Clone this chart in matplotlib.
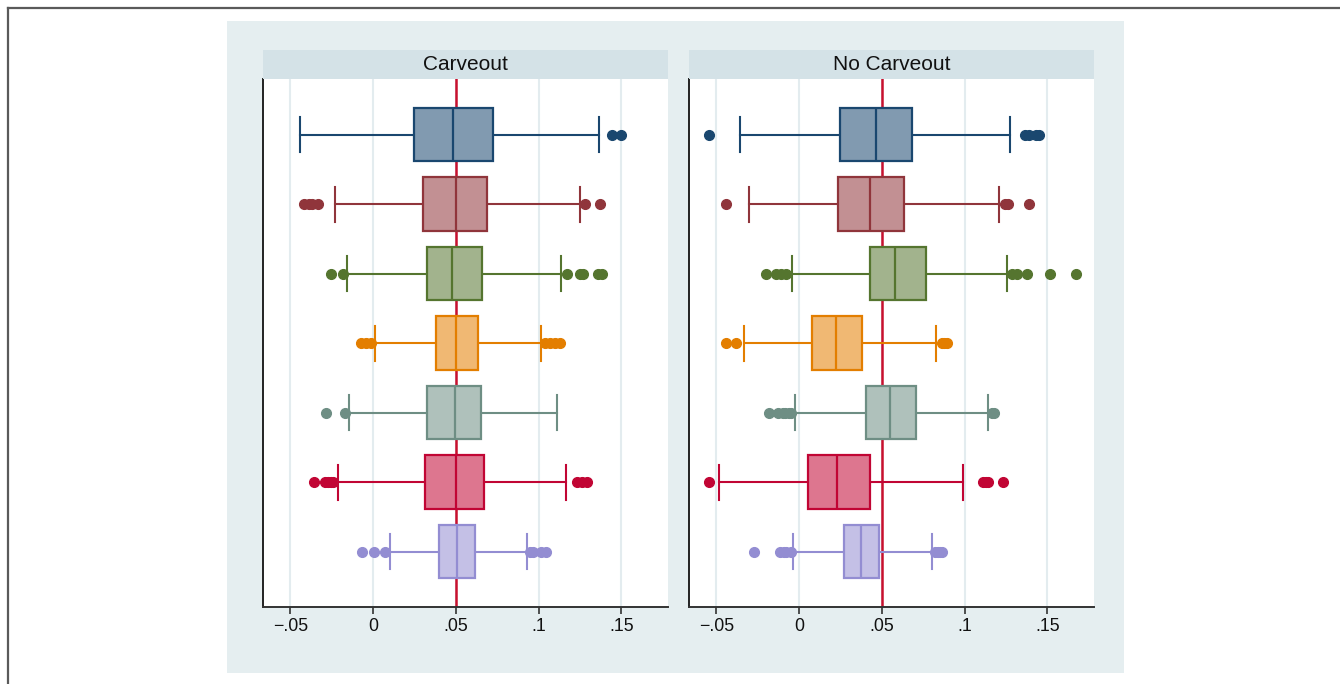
import matplotlib
matplotlib.use("Agg")
import matplotlib.pyplot as plt
from matplotlib.colors import to_rgb
from matplotlib.patches import Rectangle
from matplotlib.lines import Line2D

plt.rcParams['font.family'] = ['Liberation Sans', 'DejaVu Sans']

# Panels and series colours (Stata s2color palette)
panel_titles = ["Carveout", "No Carveout"]
series_colors = ["#1A476F", "#90353B", "#55752F", "#E37E00",
                 "#6E8E84", "#C10534", "#938DD2"]

# ---- Carveout panel: box-plot summaries (top row first) ----
carve_whislo = [-0.0439, -0.0232, -0.0157, 0.0010, -0.0145, -0.0214, 0.0100]
carve_q1     = [0.0249, 0.0304, 0.0328, 0.0378, 0.0328, 0.0314, 0.0398]
carve_med    = [0.0485, 0.0499, 0.0475, 0.0503, 0.0495, 0.0499, 0.0507]
carve_q3     = [0.0725, 0.0686, 0.0660, 0.0634, 0.0650, 0.0670, 0.0616]
carve_whishi = [0.1362, 0.1250, 0.1137, 0.1012, 0.1109, 0.1167, 0.0930]
carve_fliers = [
    [0.1441, 0.1497],
    [-0.0415, -0.0390, -0.0371, -0.0335, 0.1280, 0.1373],
    [-0.0256, -0.0184, 0.1169, 0.1250, 0.1265, 0.1360, 0.1380],
    [-0.0073, -0.0040, -0.0012, 0.1039, 0.1070, 0.1100, 0.1129],
    [-0.0282, -0.0169],
    [-0.0354, -0.0290, -0.0270, -0.0255, -0.0240, 0.1230, 0.1260, 0.1290],
    [-0.0067, 0.0008, 0.0074, 0.0950, 0.0968, 0.1012, 0.1042],
]

# ---- No Carveout panel ----
nocarve_whislo = [-0.0357, -0.0302, -0.0044, -0.0330, -0.0022, -0.0484, -0.0036]
nocarve_q1     = [0.0248, 0.0238, 0.0430, 0.0081, 0.0405, 0.0051, 0.0270]
nocarve_med    = [0.0464, 0.0430, 0.0581, 0.0226, 0.0547, 0.0230, 0.0377]
nocarve_q3     = [0.0684, 0.0635, 0.0765, 0.0383, 0.0706, 0.0430, 0.0484]
nocarve_whishi = [0.1275, 0.1208, 0.1256, 0.0829, 0.1143, 0.0990, 0.0801]
nocarve_fliers = [
    [-0.0544, 0.1365, 0.1386, 0.1430, 0.1446],
    [-0.0439, 0.1244, 0.1264, 0.1391],
    [-0.0201, -0.0137, -0.0107, -0.0076, 0.1285, 0.1319, 0.1376, 0.1517, 0.1670],
    [-0.0443, -0.0379, 0.0861, 0.0876, 0.0892],
    [-0.0183, -0.0127, -0.0100, -0.0087, -0.0060, -0.0046, 0.1164, 0.1178],
    [-0.0544, 0.1113, 0.1130, 0.1143, 0.1234],
    [-0.0272, -0.0117, -0.0090, -0.0076, -0.0050, 0.0821, 0.0840, 0.0851, 0.0861],
]

reference_value = 0.05
x_ticks = [-0.05, 0, 0.05, 0.1, 0.15]
x_tick_labels = ["\u2212.05", "0", ".05", ".1", ".15"]

panels = [
    (carve_whislo, carve_q1, carve_med, carve_q3, carve_whishi, carve_fliers),
    (nocarve_whislo, nocarve_q1, nocarve_med, nocarve_q3, nocarve_whishi, nocarve_fliers),
]


def tint(color, strength=0.55):
    """Opaque blend of a colour with white."""
    r, g, b = to_rgb(color)
    return (strength * r + (1 - strength),
            strength * g + (1 - strength),
            strength * b + (1 - strength))


W, H = 1340, 684
fig = plt.figure(figsize=(W / 100, H / 100), dpi=100)
fig.patch.set_facecolor("white")

# page frame lines (top and left) and the graph region
fig.add_artist(Line2D([7.5 / W, 1.0], [1 - 7.5 / H, 1 - 7.5 / H], color="#5a5a5a",
                      lw=1.6, transform=fig.transFigure))
fig.add_artist(Line2D([7.5 / W, 7.5 / W], [0, 1 - 7.5 / H], color="#5a5a5a",
                      lw=1.6, transform=fig.transFigure))
fig.add_artist(Rectangle((227 / W, 1 - 672.5 / H), (1124 - 227) / W, (672.5 - 21) / H,
                         transform=fig.transFigure, facecolor="#E5EEF0",
                         edgecolor="none", zorder=0))

ax_lefts = [263.3, 689.3]
ax_width = 405.0
ax_top, ax_bottom = 79.0, 607.3
head_top = 50.0

rows = list(range(1, len(series_colors) + 1))

for p, (title, data) in enumerate(zip(panel_titles, panels)):
    whislo, q1, med, q3, whishi, fliers = data
    left = ax_lefts[p]
    ax = fig.add_axes([left / W, 1 - ax_bottom / H, ax_width / W, (ax_bottom - ax_top) / H])
    ax.set_facecolor("white")

    # header strip with panel title
    fig.add_artist(Rectangle((left / W, 1 - ax_top / H), ax_width / W, (ax_top - head_top) / H,
                             transform=fig.transFigure, facecolor="#D4E2E7",
                             edgecolor="none", zorder=1))
    fig.text((left + ax_width / 2) / W, 1 - (head_top + ax_top) / 2 / H, title,
             ha="center", va="center", fontsize=15, color="#111111")

    for x in x_ticks:
        ax.axvline(x, color="#E3ECEF", lw=1.5, zorder=0)

    ax.axvline(reference_value, color="#C8102E", lw=1.8, zorder=1)

    for i, r in enumerate(rows):
        c = series_colors[i]
        stats = [dict(whislo=whislo[i], q1=q1[i], med=med[i], q3=q3[i],
                      whishi=whishi[i], fliers=fliers[i])]
        ax.bxp(stats, positions=[r], orientation="horizontal", widths=0.77,
               patch_artist=True, showcaps=True, showfliers=True, manage_ticks=False,
               boxprops=dict(facecolor=tint(c), edgecolor=c, lw=1.6, zorder=3),
               medianprops=dict(color=c, lw=1.6, zorder=4),
               whiskerprops=dict(color=c, lw=1.5, zorder=2),
               capprops=dict(color=c, lw=1.5, zorder=2),
               capwidths=0.5,
               flierprops=dict(marker="o", markersize=7, markerfacecolor=c,
                               markeredgecolor=c, linestyle="none", zorder=2))

    ax.set_xlim(-0.0663, 0.1783)
    ax.set_ylim(7.8, 0.2)
    ax.set_yticks([])
    ax.set_xticks(x_ticks)
    ax.set_xticklabels(x_tick_labels, fontsize=12.8, color="#111111")
    ax.tick_params(axis="x", length=5, width=1.2, color="#333333", pad=3)
    for s in ["top", "right"]:
        ax.spines[s].set_visible(False)
    ax.spines["left"].set_color("#222222")
    ax.spines["bottom"].set_color("#333333")
    ax.spines["left"].set_linewidth(1.4)
    ax.spines["bottom"].set_linewidth(1.4)

fig.savefig("out.png", dpi=100, facecolor=fig.get_facecolor())
